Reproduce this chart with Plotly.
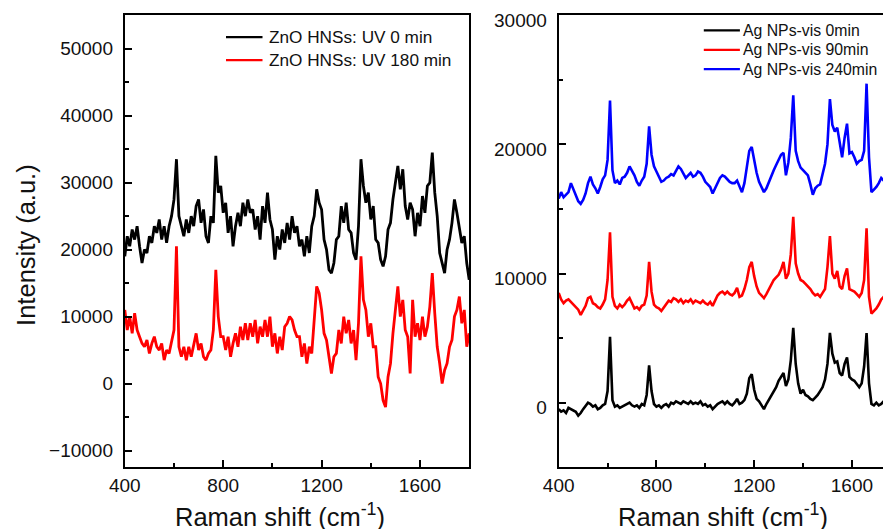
import plotly.graph_objects as go

# ---------------- Left panel data (ZnO HNSs) ----------------
shift_left = list(range(400, 1801, 10))

zno_uv0 = [
    19000, 22000, 20500, 23000, 21500, 23500, 20500, 18000, 20000, 19500,  # 400-490
    22000, 21000, 23500, 22500, 24500, 21500, 23500, 21000, 23500, 25000,  # 500-590
    27500, 33500, 25000, 23500, 22000, 24500, 22500, 25000, 23500, 26500,  # 600-690
    27500, 24000, 26000, 22000, 21000, 25000, 24000, 34000, 28500, 29500,  # 700-790
    25500, 27000, 22500, 25000, 20500, 23500, 25500, 23500, 27000, 25000,  # 800-890
    27500, 25500, 26000, 23000, 25000, 21500, 26500, 24000, 28500, 24500,  # 900-990
    23000, 18500, 22000, 20000, 23000, 21000, 24000, 21500, 25000, 22500,  # 1000-1090
    23500, 20500, 21500, 19000, 22000, 19500, 23500, 25000, 29000, 27000,  # 1100-1190
    26000, 21500, 20000, 17000, 16500, 18000, 21500, 22000, 26500, 24000,  # 1200-1290
    27000, 23000, 22500, 19500, 18500, 23500, 33500, 29500, 27000, 28500,  # 1300-1390
    24500, 26500, 21500, 21000, 18500, 17500, 19000, 23000, 24000, 27500,  # 1400-1490
    30000, 32500, 29000, 32000, 26500, 24500, 27000, 26000, 22000, 25500,  # 1500-1590
    23500, 28000, 25500, 29500, 30000, 34500, 28500, 25000, 19500, 18000,  # 1600-1690
    16500, 20000, 21500, 24000, 27500, 25500, 23000, 21000, 22000, 18000,  # 1700-1790
    15500,                                                                 # 1800
]

zno_uv180 = [
    11000, 8000, 10000, 7500, 10500, 8000, 7000, 6000, 5500, 6500,         # 400-490
    4500, 6000, 7000, 5500, 5000, 6000, 3500, 5000, 4500, 6500,            # 500-590
    8000, 20500, 5500, 4000, 5500, 3500, 5500, 4000, 6000, 7500,           # 600-690
    5000, 6000, 4000, 3500, 4500, 5000, 8000, 17000, 10000, 7000,          # 700-790
    7000, 5000, 7000, 4000, 6000, 7500, 5500, 8500, 6500, 9000,            # 800-890
    6500, 9000, 7000, 9500, 6000, 8500, 7000, 9500, 7000, 10000,           # 900-990
    5500, 7500, 4500, 7000, 5000, 8500, 9000, 10000, 9500, 8000,           # 1000-1090
    7000, 7000, 4000, 6000, 3000, 5500, 4500, 9500, 14500, 13500,          # 1100-1190
    11000, 7500, 6500, 4000, 1500, 4000, 4500, 8000, 6000, 10000,          # 1200-1290
    7500, 9500, 6000, 8000, 3500, 9000, 19000, 12500, 11000, 7000,         # 1300-1390
    9000, 5500, 5500, 1000, 0, -2500, -3500, 1000, 3000, 7500,             # 1400-1490
    11000, 14500, 10000, 12500, 8000, 7000, 1500, 12500, 7000, 9000,       # 1500-1590
    6500, 10000, 7000, 8500, 11500, 16500, 10500, 5500, 3000, 0,           # 1600-1690
    2000, 3000, 5500, 6500, 10000, 11000, 13000, 9000, 11000, 5500,        # 1700-1790
    7500,                                                                  # 1800
]

# ---------------- Right panel data (Ag NPs) ----------------
shift_right = list(range(400, 1801, 10))

ag_vis0 = [
    -500, -700, -600, -800, -400, -500, -600, -700, -1000, -800,           # 400-490
    -500, -200, 0, -100, -300, -200, -500, -400, -200, -100,               # 500-590
    900, 5100, 200, -300, -200, -400, -300, -200, -100, 0,                 # 600-690
    -200, -300, -200, -400, -100, -200, 600, 2900, 900, -100,              # 700-790
    -300, -200, -400, -200, -100, -300, 0, -100, 100, 0,                   # 800-890
    -100, 100, 0, -100, 100, -100, 0, -100, 100, -200,                     # 900-990
    -100, -300, -200, -500, -300, -100, 0, 100, -100, 100,                 # 1000-1090
    -100, -200, 0, 300, -100, 0, 200, 700, 1900, 2200,                     # 1100-1190
    1000, 300, 100, -200, -500, -100, 200, 500, 900, 1200,                 # 1200-1290
    1700, 2000, 2300, 1300, 1800, 3300, 5800, 3000, 1500, 700,             # 1300-1390
    1000, 600, 500, 300, 200, 400, 600, 900, 1200, 1800,                   # 1400-1490
    3000, 5400, 3800, 3100, 3200, 2300, 2100, 3000, 3500, 2000,            # 1500-1590
    1800, 1700, 1400, 1200, 1500, 2800, 5400, 1500, -100, -200,            # 1600-1690
    0, -200, -100, 100, 200, -100, 0, -200, -100, -300,                    # 1700-1790
    -200,                                                                  # 1800
]

ag_vis90 = [
    8500, 8000, 7700, 7900, 8000, 7800, 7600, 7400, 7200, 6800,            # 400-490
    7200, 7500, 8100, 8200, 7700, 7600, 7400, 7300, 7600, 8000,            # 500-590
    9500, 13200, 8200, 7500, 7300, 7600, 7400, 7600, 7900, 8100,           # 600-690
    7700, 7300, 7400, 7200, 7500, 7600, 8300, 10900, 8600, 7600,           # 700-790
    7400, 7300, 7100, 7400, 7700, 7900, 7800, 8100, 8000, 7800,            # 800-890
    8000, 7700, 7900, 7800, 8000, 7700, 7900, 7800, 7700, 7900,            # 900-990
    7700, 7600, 7800, 7500, 7900, 8300, 8500, 8600, 8400, 8600,            # 1000-1090
    8400, 8300, 8500, 8900, 8200, 8300, 8800, 9500, 10500, 10900,          # 1100-1190
    9800, 9000, 8500, 8300, 8100, 8400, 8800, 9200, 9500, 9700,            # 1200-1290
    9900, 10300, 10900, 9600, 10000, 11500, 14400, 10800, 10000, 9500,     # 1300-1390
    9400, 9200, 9000, 8800, 8500, 8300, 8400, 8200, 8500, 8800,            # 1400-1490
    10500, 12900, 10000, 9600, 10200, 9000, 8800, 9800, 10400, 8800,       # 1500-1590
    8700, 8600, 8400, 8200, 8500, 9500, 13500, 8200, 6900, 7100,           # 1600-1690
    7300, 7600, 8000, 8200, 8400, 8300, 8500, 8300, 8200, 8400,            # 1700-1790
    8300,                                                                  # 1800
]

ag_vis240 = [
    15800, 16300, 15900, 16100, 16300, 17000, 16500, 16000, 15600, 15400,  # 400-490
    15700, 16200, 17000, 17500, 16900, 16600, 16200, 16700, 17300, 17600,  # 500-590
    18800, 23400, 18000, 17000, 17200, 16900, 17400, 17500, 17800, 18300,  # 600-690
    18000, 17600, 17100, 16800, 17200, 17500, 18500, 21400, 19200, 18300,  # 700-790
    17900, 17500, 17100, 17200, 17400, 17500, 17700, 17600, 17900, 18300,  # 800-890
    18100, 17800, 17400, 17600, 17800, 17500, 17600, 17900, 17800, 17500,  # 900-990
    17100, 16900, 16700, 16200, 16600, 17000, 17400, 17600, 17500, 17300,  # 1000-1090
    17100, 17000, 17000, 17200, 16800, 16300, 17000, 18300, 19500, 19800,  # 1100-1190
    18700, 17800, 17100, 16700, 16300, 16600, 17100, 17600, 18000, 18400,  # 1200-1290
    18800, 19200, 19350, 17600, 18600, 20500, 23800, 19500, 18700, 18200,  # 1300-1390
    18000, 17800, 17600, 16900, 16100, 16600, 16800, 16900, 17600, 18500,  # 1400-1490
    20000, 23500, 21500, 21000, 21300, 20000, 19000, 20500, 21600, 19300,  # 1500-1590
    19400, 19000, 18500, 18700, 18800, 19500, 24700, 19000, 16300, 16500,  # 1600-1690
    16700, 17000, 17400, 17200, 17600, 17300, 17200, 17400, 16700, 16900,  # 1700-1790
    16800,                                                                 # 1800
]

left_labels = ["ZnO HNSs: UV 0 min", "ZnO HNSs: UV 180 min"]
left_colors = ["#000000", "#ff0000"]
right_labels = ["Ag NPs-vis 0min", "Ag NPs-vis 90min", "Ag NPs-vis 240min"]
right_colors = ["#000000", "#ff0000", "#0000ff"]

FONT = "Liberation Sans, Arial, sans-serif"
# page body has an 8 px margin; figure sized so it ends exactly at the window edge
W, H = 883, 521


def px(x):
    return x / W


def py(y):
    return 1 - y / H


fig = go.Figure()
for lbl, col, ys in zip(left_labels, left_colors, [zno_uv0, zno_uv180]):
    fig.add_trace(go.Scatter(x=shift_left, y=ys, mode="lines", name=lbl, showlegend=False,
                             line=dict(color=col, width=2.8), xaxis="x", yaxis="y"))
for lbl, col, ys in zip(right_labels, right_colors, [ag_vis0, ag_vis90, ag_vis240]):
    fig.add_trace(go.Scatter(x=shift_right, y=ys, mode="lines", name=lbl, showlegend=False,
                             line=dict(color=col, width=2.6), xaxis="x2", yaxis="y2"))

ydom = [py(459.3), py(7.2)]
tickfont = dict(family=FONT, size=19, color="#111111")

common_x = dict(tickmode="linear", tick0=400, dtick=400, ticks="inside", ticklen=7, tickwidth=1.6,
                tickcolor="#000", showline=True, linecolor="#000", linewidth=2, showgrid=False,
                zeroline=False, tickfont=tickfont, automargin=False,
                minor=dict(dtick=200, tick0=400, ticks="inside", ticklen=4.5, tickwidth=1.6, tickcolor="#000"))
common_y = dict(tickmode="linear", tick0=0, dtick=10000, ticks="inside", ticklen=7, tickwidth=1.6,
                tickcolor="#000", showline=True, linecolor="#000", linewidth=2, showgrid=False,
                zeroline=False, tickfont=tickfont, tickformat="d", automargin=False,
                ticklabelstandoff=6, ticklabeloverflow="allow",
                minor=dict(dtick=5000, tick0=0, ticks="inside", ticklen=4.5, tickwidth=1.6, tickcolor="#000"))

fig.update_layout(
    width=W, height=H, margin=dict(l=0, r=0, t=0, b=0, autoexpand=False),
    paper_bgcolor="white", plot_bgcolor="white",
    font=dict(family=FONT, color="#111111"),
    xaxis=dict(common_x, domain=[px(116.8), px(461.2)], range=[400, 1800], mirror=True, anchor="y"),
    yaxis=dict(common_y, domain=ydom, range=[-12500, 55000], mirror=True, anchor="x"),
    xaxis2=dict(common_x, domain=[px(550.7), 1.0], range=[400, 1760], mirror=True, anchor="y2"),
    yaxis2=dict(common_y, domain=ydom, range=[-5000, 30001], mirror=False, anchor="x2",
                ticklabelshift=5),
    showlegend=False,
)

# ---- legends (line samples + labels) ----
leg_font = dict(family=FONT, size=17.2, color="#111111")
for i, (lbl, col) in enumerate(zip(left_labels, left_colors)):
    yy = 29.1 + 23.0 * i
    fig.add_shape(type="line", xref="paper", yref="paper", x0=px(218), x1=px(254.5),
                  y0=py(yy), y1=py(yy), line=dict(color=col, width=2.2))
    fig.add_annotation(text=lbl, xref="paper", yref="paper", x=px(258.5), y=py(yy),
                       xanchor="left", yanchor="middle", showarrow=False, font=leg_font)
leg_font2 = dict(family=FONT, size=15.8, color="#111111")
for i, (lbl, col) in enumerate(zip(right_labels, right_colors)):
    yy = 22.4 + 19.4 * i
    fig.add_shape(type="line", xref="paper", yref="paper", x0=px(695.8), x1=px(731.9),
                  y0=py(yy), y1=py(yy), line=dict(color=col, width=2.2))
    fig.add_annotation(text=lbl, xref="paper", yref="paper", x=px(733), y=py(yy),
                       xanchor="left", yanchor="middle", showarrow=False, font=leg_font2)

title_font = dict(family=FONT, size=25.5, color="#111111")
fig.add_annotation(text="Raman shift (cm<sup>-1</sup>)", xref="paper", yref="paper",
                   x=px(272), y=py(506.5), xanchor="center", yanchor="middle",
                   showarrow=False, font=title_font)
fig.add_annotation(text="Raman shift (cm<sup>-1</sup>)", xref="paper", yref="paper",
                   x=px(715), y=py(506.5), xanchor="center", yanchor="middle",
                   showarrow=False, font=title_font)
fig.add_annotation(text="Intensity (a.u.)", xref="paper", yref="paper",
                   x=px(17.3), y=py(236.6), xanchor="center", yanchor="middle",
                   showarrow=False, textangle=-90, font=title_font)

fig.write_html("out.html")
